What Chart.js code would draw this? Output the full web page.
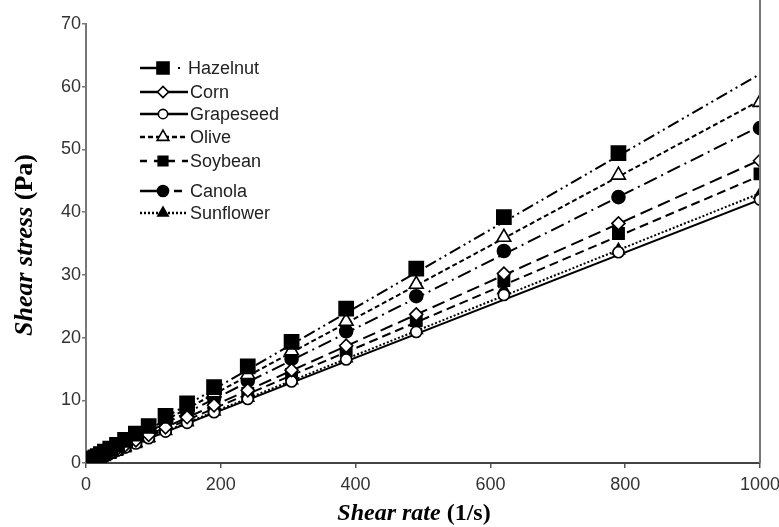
<!DOCTYPE html>
<html>
<head>
<meta charset="utf-8">
<script src="https://cdn.jsdelivr.net/npm/chart.js@4.4.0/dist/chart.umd.min.js"></script>
<style>
  html, body { margin: 0; padding: 0; background: #fff; }
  #wrap { width: 779px; height: 527px; position: relative; }
</style>
</head>
<body>
<div id="wrap"><canvas id="shearChart"></canvas></div>
<script>
// shear rate (1/s) of the measured points
const shearRate = [1000, 790, 620, 490, 386, 305, 240, 190, 150, 118, 93, 74, 58, 46, 36, 28, 22, 17.5, 14, 11, 8.7, 6.9, 5.4, 4.3, 3.4, 2.7];

// shear stress (Pa) per oil
const hazelnut  = [null, 49.4, 39.2, 31.0, 24.6, 19.3, 15.4, 12.1, 9.5, 7.5, 5.9, 4.7, 3.7, 2.9, 2.3, 1.8, 1.4, 1.1, 0.9, 0.7, 0.55, 0.45, 0.35, 0.28, 0.22, 0.18];
const corn      = [48.2, 38.2, 30.2, 23.7, 18.7, 14.8, 11.6, 9.2, 7.3, 5.7, 4.5, 3.6, 2.8, 2.2, 1.75, 1.35, 1.07, 0.85, 0.68, 0.53, 0.42, 0.33, 0.26, 0.21, 0.16, 0.13];
const grapeseed = [42.0, 33.6, 26.8, 20.9, 16.5, 13.0, 10.2, 8.1, 6.4, 5.0, 3.95, 3.1, 2.45, 1.95, 1.52, 1.18, 0.93, 0.74, 0.59, 0.46, 0.36, 0.29, 0.23, 0.18, 0.14, 0.11];
const olive     = [57.5, 45.9, 36.0, 28.5, 22.6, 17.9, 14.1, 11.2, 8.8, 6.9, 5.5, 4.3, 3.4, 2.7, 2.1, 1.65, 1.3, 1.0, 0.8, 0.65, 0.5, 0.4, 0.32, 0.25, 0.2, 0.16];
const soybean   = [46.1, 36.6, 29.1, 22.7, 17.9, 14.1, 11.1, 8.8, 6.95, 5.5, 4.3, 3.4, 2.7, 2.13, 1.67, 1.3, 1.02, 0.81, 0.65, 0.51, 0.4, 0.32, 0.25, 0.2, 0.16, 0.13];
const canola    = [53.4, 42.4, 33.8, 26.6, 21.0, 16.6, 13.1, 10.4, 8.2, 6.5, 5.1, 4.0, 3.1, 2.5, 1.95, 1.5, 1.2, 0.95, 0.75, 0.6, 0.47, 0.37, 0.29, 0.23, 0.18, 0.15];
const sunflower = [42.8, 33.9, 27.6, 21.2, 16.7, 13.2, 10.4, 8.2, 6.5, 5.1, 4.0, 3.2, 2.5, 2.0, 1.55, 1.2, 0.95, 0.75, 0.6, 0.47, 0.37, 0.3, 0.23, 0.18, 0.15, 0.12];

const seriesNames = ["Hazelnut", "Corn", "Grapeseed", "Olive", "Soybean", "Canola", "Sunflower"];
const seriesValues = [hazelnut, corn, grapeseed, olive, soybean, canola, sunflower];

// fitted straight lines: stress at 0 and at 1000 1/s
const fitStart = [0, 0, 0, 0, 0, 0, 0];
const fitEnd = [62.0, 48.3, 42.0, 57.8, 45.8, 53.7, 43.0];

const xTicks = [0, 200, 400, 600, 800, 1000];
const yTicks = [0, 10, 20, 30, 40, 50, 60, 70];

const styles = {
  Hazelnut:  { point: "rect",     radius: 10,  fill: "#000", dash: [12, 4, 2, 4, 2, 4], legendDash: [] },
  Corn:      { point: "rectRot",  radius: 6.5, fill: "#fff", dash: [13, 6], legendDash: [] },
  Grapeseed: { point: "circle",   radius: 5.5, fill: "#fff", dash: [], legendDash: [] },
  Olive:     { point: "triangle", radius: 8,   fill: "#fff", dash: [5, 3], legendDash: [5, 3] },
  Soybean:   { point: "rect",     radius: 8,   fill: "#000", dash: [9, 5], legendDash: [7, 7] },
  Canola:    { point: "circle",   radius: 6.5, fill: "#000", dash: [14, 5, 2, 5], legendDash: [] },
  Sunflower: { point: "triangle", radius: 7,   fill: "#000", dash: [2, 2], legendDash: [2, 2] }
};

const datasets = [];
seriesNames.forEach((name, i) => {
  const st = styles[name];
  datasets.push({
    label: name + " fit",
    data: [{ x: xTicks[0], y: fitStart[i] }, { x: xTicks[xTicks.length - 1], y: fitEnd[i] }],
    showLine: true,
    borderColor: "#000",
    borderWidth: 2,
    borderDash: st.dash,
    pointRadius: 0,
    order: 2
  });
  datasets.push({
    label: name,
    data: shearRate.map((x, k) => ({ x: x, y: seriesValues[i][k] })).filter(p => p.y !== null),
    showLine: false,
    pointStyle: st.point,
    pointRadius: st.radius,
    pointBackgroundColor: st.fill,
    pointBorderColor: "#000",
    pointBorderWidth: 1.6,
    order: 1
  });
});

function drawMarker(ctx, style, x, y) {
  ctx.save();
  ctx.setLineDash([]);
  ctx.fillStyle = style.fill;
  ctx.strokeStyle = "#000";
  ctx.lineWidth = 1.6;
  Chart.helpers.drawPoint(ctx, { pointStyle: style.point, radius: style.radius * 0.85, borderWidth: 1.6 }, x, y);
  ctx.restore();
}

const annotate = {
  id: "annotate",
  afterDraw(chart) {
    const ctx = chart.ctx;
    const area = chart.chartArea;

    // right frame line
    ctx.save();
    ctx.strokeStyle = "#777";
    ctx.lineWidth = 2;
    ctx.beginPath();
    ctx.moveTo(area.right, 0);
    ctx.lineTo(area.right, area.bottom);
    ctx.stroke();
    ctx.restore();

    // legend
    const rowY = [68, 92, 114, 137, 161, 191, 213];
    seriesNames.forEach((name, i) => {
      const st = styles[name];
      const y = rowY[i];
      ctx.save();
      ctx.strokeStyle = "#000";
      ctx.lineWidth = 2.5;
      ctx.setLineDash(st.legendDash);
      ctx.beginPath();
      if (name === "Hazelnut") {
        ctx.moveTo(140, y);
        ctx.lineTo(162, y);
        ctx.stroke();
        ctx.fillStyle = "#000";
        ctx.fillRect(178, y - 1, 2, 2);
      } else if (name === "Canola") {
        ctx.moveTo(140, y);
        ctx.lineTo(162, y);
        ctx.moveTo(174, y);
        ctx.lineTo(182, y);
        ctx.stroke();
      } else {
        ctx.moveTo(140, y);
        ctx.lineTo(188, y);
        ctx.stroke();
      }
      ctx.restore();
      drawMarker(ctx, st, 163, y);
      ctx.save();
      ctx.fillStyle = "#222";
      ctx.font = "18px 'Liberation Sans', Arial, sans-serif";
      ctx.textBaseline = "middle";
      ctx.fillText(name, name === "Hazelnut" ? 188 : 190, y + 1);
      ctx.restore();
    });

    // axis titles with mixed italic / upright parts
    function mixedTitle(parts, size) {
      const italic = "bold italic " + size + "px 'Liberation Serif', 'Times New Roman', serif";
      const upright = "bold " + size + "px 'Liberation Serif', 'Times New Roman', serif";
      ctx.font = italic;
      const w1 = ctx.measureText(parts[0]).width;
      ctx.font = upright;
      const w2 = ctx.measureText(parts[1]).width;
      const start = -(w1 + w2) / 2;
      ctx.textBaseline = "middle";
      ctx.textAlign = "left";
      ctx.font = italic;
      ctx.fillText(parts[0], start, 0);
      ctx.font = upright;
      ctx.fillText(parts[1], start + w1, 0);
    }
    ctx.save();
    ctx.fillStyle = "#000";
    ctx.translate(414, 514);
    mixedTitle(["Shear rate ", "(1/s)"], 24);
    ctx.restore();

    ctx.save();
    ctx.fillStyle = "#000";
    ctx.translate(25, 245);
    ctx.rotate(-Math.PI / 2);
    mixedTitle(["Shear stress ", "(Pa)"], 26);
    ctx.restore();
  }
};

const tickFont = { family: "'Liberation Sans', Arial, sans-serif", size: 18 };

new Chart(document.getElementById("shearChart"), {
  type: "scatter",
  data: { datasets: datasets },
  plugins: [annotate],
  options: {
    responsive: true,
    maintainAspectRatio: false,
    animation: false,
    layout: { padding: { left: 0, right: 19, top: 24, bottom: 0 } },
    plugins: {
      legend: { display: false },
      tooltip: { enabled: false }
    },
    scales: {
      x: {
        type: "linear",
        min: xTicks[0],
        max: xTicks[xTicks.length - 1],
        afterBuildTicks: scale => { scale.ticks = xTicks.map(v => ({ value: v })); },
        afterFit: scale => {
          scale.height = 64;
          scale.paddingLeft = 0;
          scale.paddingRight = 0;
        },
        ticks: { color: "#333", font: tickFont, padding: 6, maxRotation: 0, callback: v => String(v) },
        grid: { drawOnChartArea: false, tickLength: 5, color: "#555", lineWidth: 1.5 },
        border: { display: true, color: "#444", width: 2 }
      },
      y: {
        type: "linear",
        min: yTicks[0],
        max: yTicks[yTicks.length - 1],
        afterBuildTicks: scale => { scale.ticks = yTicks.map(v => ({ value: v })); },
        afterFit: scale => {
          scale.width = 86;
          scale.paddingTop = 0;
          scale.paddingBottom = 0;
        },
        ticks: { color: "#333", font: tickFont, padding: 1, callback: v => String(v) },
        grid: { drawOnChartArea: false, tickLength: 4, color: "#777", lineWidth: 1.5 },
        border: { display: true, color: "#777", width: 2 }
      }
    }
  }
});
</script>
</body>
</html>
